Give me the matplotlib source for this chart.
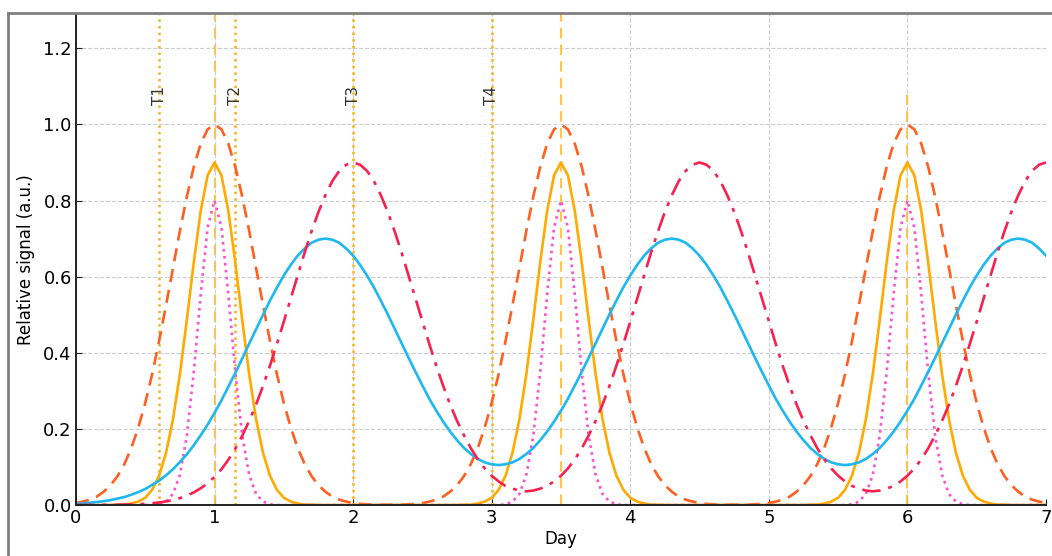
import numpy as np
import matplotlib
matplotlib.use("Agg")
from matplotlib import pyplot as plt
from matplotlib.lines import Line2D

# sample grid, 0.05 day
day = np.round(np.arange(0, 7.001, 0.05), 2)

dashed_orange = [
    .005, .009, .014, .022, .035, .052, .076, .108, .150, .204, .268, .344, .431, .525, .623, .720, .810, .888, .949, .987,
    1.000, .987, .949, .888, .810, .720, .623, .525, .431, .344, .268, .204, .150, .108, .076, .052, .035, .022, .014, .009,
    .005, .003, .002, .001, .001, .001, .001, .001, .002, .003,
    .005, .009, .014, .022, .035, .052, .076, .108, .150, .204, .268, .344, .431, .525, .623, .720, .810, .888, .949, .987,
    1.000, .987, .949, .888, .810, .720, .623, .525, .431, .344, .268, .204, .150, .108, .076, .052, .035, .022, .014, .009,
    .005, .003, .002, .001, .001, .001, .001, .001, .002, .003,
    .005, .009, .014, .022, .035, .052, .076, .108, .150, .204, .268, .344, .431, .525, .623, .720, .810, .888, .949, .987,
    1.000, .987, .949, .888, .810, .720, .623, .525, .431, .344, .268, .204, .150, .108, .076, .052, .035, .022, .014, .009,
    .005,
]

solid_orange = [
    0, 0, 0, 0, 0, 0,
    .001, .001, .004, .009, .019, .040, .077, .137, .225, .344, .486, .637, .772, .866,
    .900, .866, .772, .637, .486, .344, .225, .137, .077, .040, .019, .009, .004, .001, .001,
    0, 0, 0, 0, 0, 0, 0, 0, 0, 0, 0, 0, 0, 0, 0,
    0, 0, 0, 0, 0, 0,
    .001, .001, .004, .009, .019, .040, .077, .137, .225, .344, .486, .637, .772, .866,
    .900, .866, .772, .637, .486, .344, .225, .137, .077, .040, .019, .009, .004, .001, .001,
    0, 0, 0, 0, 0, 0, 0, 0, 0, 0, 0, 0, 0, 0, 0,
    0, 0, 0, 0, 0, 0,
    .001, .001, .004, .009, .019, .040, .077, .137, .225, .344, .486, .637, .772, .866,
    .900, .866, .772, .637, .486, .344, .225, .137, .077, .040, .019, .009, .004, .001, .001,
    0, 0, 0, 0, 0, 0,
]

pink_dotted = [
    0, 0, 0, 0, 0, 0, 0, 0, 0, 0, 0, 0,
    .002, .009, .029, .079, .182, .348, .552, .729, .800, .729, .552, .348, .182, .079, .029, .009, .002,
    0, 0, 0, 0, 0, 0, 0, 0, 0, 0, 0, 0, 0, 0, 0, 0, 0, 0, 0, 0, 0,
    0, 0, 0, 0, 0, 0, 0, 0, 0, 0, 0, 0,
    .002, .009, .029, .079, .182, .348, .552, .729, .800, .729, .552, .348, .182, .079, .029, .009, .002,
    0, 0, 0, 0, 0, 0, 0, 0, 0, 0, 0, 0, 0, 0, 0, 0, 0, 0, 0, 0, 0,
    0, 0, 0, 0, 0, 0, 0, 0, 0, 0, 0, 0,
    .002, .009, .029, .079, .182, .348, .552, .729, .800, .729, .552, .348, .182, .079, .029, .009, .002,
    0, 0, 0, 0, 0, 0, 0, 0, 0, 0, 0, 0,
]

blue = [
    .003, .004, .006, .008, .010, .013, .017, .021, .027, .034, .042, .053, .064, .078, .094, .113, .133, .157, .183, .211,
    .242, .275, .311, .347, .385, .424, .462, .500, .537, .571, .603, .631, .655, .674, .689, .697,
    .700, .697, .689, .674, .655, .631, .603, .572, .537, .501, .463, .425, .387, .350, .314, .279, .248, .219, .193, .170,
    .150, .134, .121, .112, .107, .105, .107, .112, .121, .134, .150, .170, .193, .219, .248, .279, .314, .350, .387, .425,
    .463, .501, .537, .572, .603, .631, .655, .674, .689, .697,
    .700, .697, .689, .674, .655, .631, .603, .572, .537, .501, .463, .425, .387, .350, .314, .279, .248, .219, .193, .170,
    .150, .134, .121, .112, .107, .105, .107, .112, .121, .134, .150, .170, .193, .219, .248, .279, .314, .350, .387, .425,
    .463, .501, .537, .572, .603, .631, .655, .674, .689, .697,
    .700, .697, .689, .674, .655,
]

red_dashdot = [
    0, .0001, .0001, .0002, .0003, .0004, .0007, .001, .0015, .0022, .0032, .0047, .0067, .0095, .013, .018, .025, .033,
    .044, .057, .074, .094, .119, .148, .182, .221, .264, .313, .366, .423, .482, .543, .603, .663, .719, .770, .814, .851,
    .878, .894,
    .900, .894, .878, .851, .814, .770, .719, .663, .603, .543, .482, .423, .366, .313, .264, .221, .183, .149, .120, .096,
    .077, .062, .050, .043, .038, .036, .038, .043, .050, .062, .077, .096, .120, .149, .183, .221, .264, .313, .366, .423,
    .482, .543, .603, .663, .719, .770, .814, .851, .878, .894,
    .900, .894, .878, .851, .814, .770, .719, .663, .603, .543, .482, .423, .366, .313, .264, .221, .183, .149, .120, .096,
    .077, .062, .050, .043, .038, .036, .038, .043, .050, .062, .077, .096, .120, .149, .183, .221, .264, .313, .366, .423,
    .482, .543, .603, .663, .719, .770, .814, .851, .878, .894,
    .900,
]

marker_days = [0.6, 1.15, 2.0, 3.0]
marker_labels = ["T1", "T2", "T3", "T4"]
peak_days = [1.0, 3.5, 6.0]

fig = plt.figure(figsize=(10.52, 5.56), dpi=100)
ax = fig.add_axes([0.0722, 0.0917, 0.9221, 0.8831])

ax.grid(True, ls="--", color="#cccccc", lw=0.8)
ax.set_axisbelow(True)

# peak markers (last one is shorter in the reference)
peak_tops = [1.0, 1.0, 0.845]
for d, top in zip(peak_days, peak_tops):
    ax.axvline(d, ymax=top, color="#ffbf3c", ls=(0, (5, 3)), lw=1.5, alpha=0.9, zorder=1.5)

for d, lab in zip(marker_days, marker_labels):
    ax.axvline(d, color="#f7b21c", ls=":", lw=1.8, zorder=1.6)
    ax.text(d, 1.075, lab, rotation=90, ha="center", va="center", fontsize=11, color="#333333", zorder=3)

kw = dict(lw=1.9, zorder=2, solid_joinstyle="round", dash_joinstyle="round")
ax.plot(day, dashed_orange, color="#ff5f1f", ls=(0, (5, 3)), **kw)
ax.plot(day, solid_orange, color="#ffaa00", **kw)
ax.plot(day, pink_dotted, color="#ff4fd0", ls=":", **kw)
ax.plot(day, blue, color="#1db8f2", **kw)
ax.plot(day, red_dashdot, color="#f8204f", ls=(0, (7, 3, 1.5, 3)), **kw)

ax.set_xlim(0, 7)
ax.set_ylim(0, 1.29)
ax.set_xticks(range(0, 8))
ax.set_yticks([0.0, 0.2, 0.4, 0.6, 0.8, 1.0, 1.2])
ax.set_yticklabels(["0.0", "0.2", "0.4", "0.6", "0.8", "1.0", "1.2"])
ax.tick_params(direction="in", length=4, labelsize=13, pad=3, color="#222222")
for s in ["top", "right"]:
    ax.spines[s].set_visible(False)
for s in ["left", "bottom"]:
    ax.spines[s].set_linewidth(1.4)
    ax.spines[s].set_color("#222222")

ax.set_xlabel("Day", fontsize=12, labelpad=2)
ax.set_ylabel("Relative signal (a.u.)", fontsize=12, labelpad=6)

# grey frame of the original screenshot
fig.add_artist(Line2D([8 / 1052, 8 / 1052], [0, 1 - 13 / 556], color="#808080", lw=2))
fig.add_artist(Line2D([8 / 1052, 1], [1 - 13 / 556, 1 - 13 / 556], color="#808080", lw=2))

fig.savefig("out.png", dpi=100)
